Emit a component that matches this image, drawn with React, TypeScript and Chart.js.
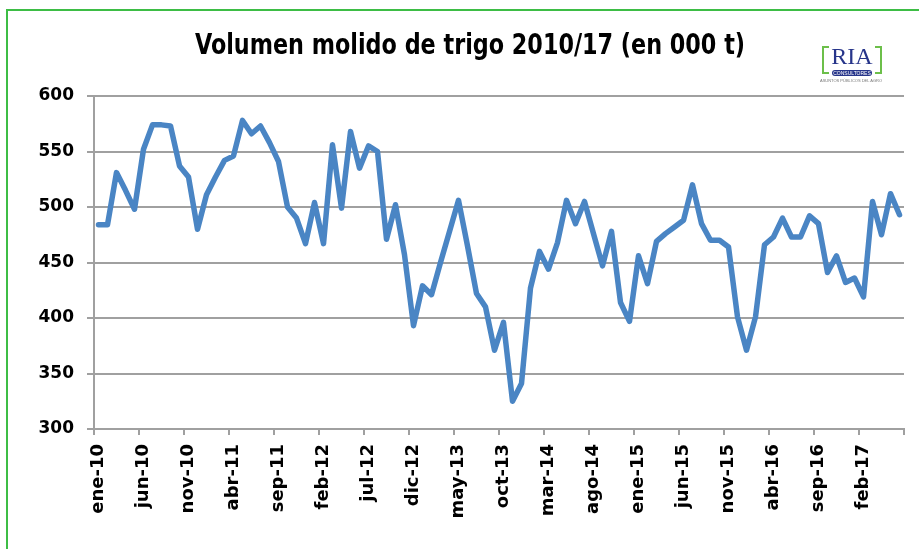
import { useEffect, useRef } from 'react';
import { Chart, registerables } from 'chart.js';

Chart.register(...registerables);

const TITLE = 'Volumen molido de trigo 2010/17 (en 000 t)';
const MONTHS = ['ene', 'feb', 'mar', 'abr', 'may', 'jun', 'jul', 'ago', 'sep', 'oct', 'nov', 'dic'];
const YEARS = ['10', '11', '12', '13', '14', '15', '16', '17'];

const VOLUMEN = [
  484, 484, 531, 515, 498, 552, 574, 574, 573, 537, 527, 480,
  511, 527, 542, 546, 578, 566, 573, 558, 541, 500, 490, 467,
  504, 467, 556, 499, 568, 535, 555, 550, 471, 502, 457, 393,
  429, 421, 450, 478, 506, 465, 422, 410, 371, 396, 325, 341,
  427, 460, 444, 468, 506, 485, 505, 476, 447, 478, 414, 397,
  456, 431, 469, 476, 482, 488, 520, 485, 470, 470, 464, 401,
  371, 401, 466, 473, 490, 473, 473, 492, 485, 441, 456, 432,
  436, 419, 505, 475, 512, 493,
];

const LABELS: string[] = [];
YEARS.forEach((y) => MONTHS.forEach((m) => LABELS.push(`${m}-${y}`)));
const CATEGORIES = LABELS.slice(0, VOLUMEN.length);

const LABEL_EVERY = 5;
const Y_MIN = 300;
const Y_MAX = 600;
const Y_STEP = 50;

const GRID = '#a0a0a0';
const LINE = '#4a85c4';

const titlePlugin = {
  id: 'fittedTitle',
  afterDraw(chart: any) {
    const ctx = chart.ctx;
    ctx.save();
    ctx.font = 'bold 28px "Liberation Sans Narrow", "DejaVu Sans Condensed", "Liberation Sans", sans-serif';
    ctx.fillStyle = '#000';
    ctx.textAlign = 'center';
    ctx.textBaseline = 'middle';
    const w = ctx.measureText(TITLE).width;
    ctx.translate(470, 47);
    ctx.scale(550 / w, 1);
    ctx.fillText(TITLE, 0, 0);
    ctx.restore();
  },
};

function ChartView() {
  const ref = useRef<HTMLCanvasElement | null>(null);
  useEffect(() => {
    if (!ref.current) return;
    const chart = new Chart(ref.current, {
      type: 'line',
      data: {
        labels: CATEGORIES,
        datasets: [
          {
            data: VOLUMEN,
            borderColor: LINE,
            backgroundColor: LINE,
            borderWidth: 5.5,
            pointRadius: 0,
            tension: 0,
            borderJoinStyle: 'round',
            borderCapStyle: 'round',
            fill: false,
          },
        ],
      },
      plugins: [titlePlugin],
      options: {
        responsive: false,
        animation: false,
        devicePixelRatio: 1,
        layout: { padding: { left: 0, top: 96, right: 15, bottom: 0 } },
        plugins: {
          legend: { display: false },
          title: { display: false },
          tooltip: { enabled: false },
        },
        scales: {
          x: {
            type: 'category',
            offset: true,
            afterFit: (s: any) => {
              s.height = 120;
              s.paddingLeft = 0;
              s.paddingRight = 0;
            },
            grid: {
              offset: true,
              drawOnChartArea: false,
              drawTicks: true,
              tickLength: 6,
              lineWidth: 2,
              color: (c: any) =>
                c.index === undefined || c.index % LABEL_EVERY === 0 ? GRID : 'rgba(0,0,0,0)',
            },
            border: { display: true, color: GRID, width: 2 },
            ticks: {
              autoSkip: false,
              maxRotation: 90,
              minRotation: 90,
              padding: 9,
              color: '#000',
              font: { family: '"DejaVu Sans", Verdana, sans-serif', weight: 'bold', size: 18 },
              callback: (_v: any, i: number) => (i % LABEL_EVERY === 0 ? CATEGORIES[i] : ''),
            },
          },
          y: {
            min: Y_MIN,
            max: Y_MAX,
            afterFit: (s: any) => {
              s.width = 94;
            },
            grid: {
              color: GRID,
              lineWidth: 2,
              drawTicks: true,
              tickLength: 7,
            },
            border: { display: true, color: GRID, width: 2 },
            ticks: {
              stepSize: Y_STEP,
              padding: 13,
              color: '#000',
              font: { family: '"DejaVu Sans", Verdana, sans-serif', weight: 'bold', size: 17 },
            },
          },
        },
      },
    });
    return () => chart.destroy();
  }, []);
  return <canvas ref={ref} width={919} height={549} style={{ display: 'block' }} />;
}

export default function App() {
  const green = '#6cbf4a';
  const navy = '#27358a';
  return (
    <div
      style={{
        position: 'absolute',
        left: 0,
        top: 0,
        width: 919,
        height: 549,
        overflow: 'hidden',
        background: '#fff',
      }}
    >
      <ChartView />
      <div
        style={{
          position: 'absolute',
          left: 6,
          top: 9,
          width: 2000,
          height: 2000,
          borderTop: '2px solid #3dbd45',
          borderLeft: '2px solid #3dbd45',
          pointerEvents: 'none',
        }}
      />
      <div
        style={{
          position: 'absolute',
          left: 822,
          top: 46,
          width: 5,
          height: 24,
          borderTop: `2.5px solid ${green}`,
          borderLeft: `2.5px solid ${green}`,
          borderBottom: `2.5px solid ${green}`,
        }}
      />
      <div
        style={{
          position: 'absolute',
          left: 875,
          top: 46,
          width: 5,
          height: 24,
          borderTop: `2.5px solid ${green}`,
          borderRight: `2.5px solid ${green}`,
          borderBottom: `2.5px solid ${green}`,
        }}
      />
      <div
        style={{
          position: 'absolute',
          left: 826,
          top: 42,
          width: 52,
          textAlign: 'center',
          font: '24px "Liberation Serif", "DejaVu Serif", serif',
          color: navy,
          lineHeight: '28px',
        }}
      >
        RIA
      </div>
      <div
        style={{
          position: 'absolute',
          left: 832,
          top: 70,
          width: 40,
          height: 6,
          borderRadius: 3,
          background: navy,
          color: '#fff',
          font: '5px "Liberation Sans", sans-serif',
          lineHeight: '6px',
          textAlign: 'center',
          overflow: 'hidden',
        }}
      >
        CONSULTORES
      </div>
      <div
        style={{
          position: 'absolute',
          left: 818,
          top: 78,
          width: 66,
          color: '#777',
          font: '4px "Liberation Sans", sans-serif',
          lineHeight: '5px',
          textAlign: 'center',
          whiteSpace: 'nowrap',
        }}
      >
        ASUNTOS PÚBLICOS DEL AGRO
      </div>
    </div>
  );
}
